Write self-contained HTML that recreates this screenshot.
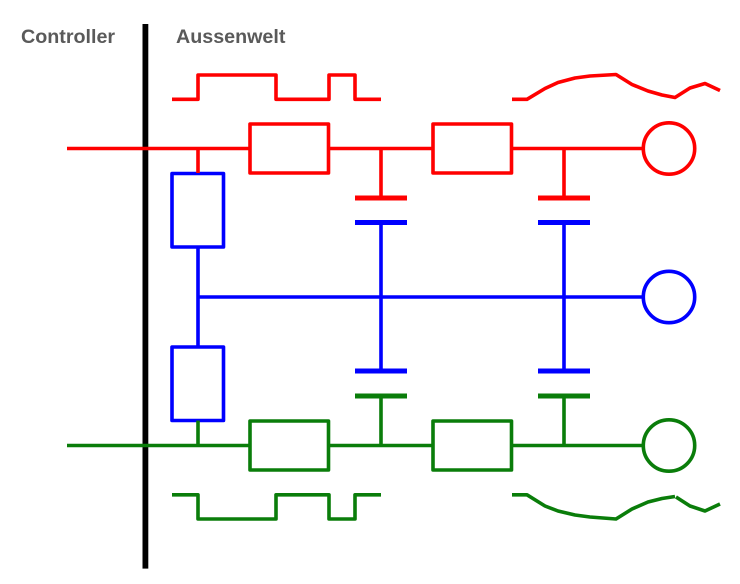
<!DOCTYPE html>
<html>
<head>
<meta charset="utf-8">
<style>
html,body{margin:0;padding:0;background:#fff;width:740px;height:584px;overflow:hidden}
svg{display:block}
text{font-family:"Liberation Sans",sans-serif;font-weight:bold;font-size:19.7px;fill:#5a5a5a}
.l{fill:none;stroke-linejoin:round}
.r{stroke:#f00}.b{stroke:#00f}.g{stroke:#0a7d0a}
</style>
</head>
<body>
<svg width="740" height="584" viewBox="0 0 740 584" xmlns="http://www.w3.org/2000/svg">
<rect width="740" height="584" fill="#fff"/>
<text x="21" y="43">Controller</text>
<text x="176" y="43">Aussenwelt</text>
<rect x="142.5" y="24" width="5.8" height="544.6" fill="#000"/>

<!-- blue -->
<g class="l b" stroke-width="3.6">
<rect x="172" y="173.5" width="51.5" height="73.5"/>
<rect x="172" y="347" width="51.5" height="73.5"/>
<path d="M198 247V347M198 297H642M381 222V371M564 222V371"/>
<circle cx="669" cy="297" r="25.7"/>
</g>
<path d="M355 222.5H407M538 222.5H590M355 371H407M538 371H590" stroke="#00f" stroke-width="5" fill="none"/>

<!-- red -->
<g class="l r" stroke-width="3.6">
<path d="M67 148.5H249M329 148.5H433M512 148.5H642M198 148.5V173M381 148.5V198M564 148.5V198"/>
<rect x="250" y="124" width="78.500" height="49"/>
<rect x="433" y="124" width="78.500" height="49"/>
<circle cx="669" cy="148.500" r="25.700"/>
<path d="M172 99.300H198V75H276V99.300H329V75H355V99.300H381"/>
<path d="M512 99.300H527L545 88.500L558 82.500L575 78L590 76L616 74.500L632 84.500L648 91L662 95L675 97.500L690 88L705 83.500L720 90.500"/>
</g>
<path d="M355 198H407M538 198H590" stroke="#f00" stroke-width="5" fill="none"/>

<!-- green -->
<g class="l g" stroke-width="3.6">
<path d="M67 445.500H249M329 445.500H433M512 445.500H642M198 420.500V445.500M381 396V445.500M564 396V445.500"/>
<rect x="250" y="421" width="78.500" height="49"/>
<rect x="433" y="421" width="78.500" height="49"/>
<circle cx="669" cy="445.500" r="25.700"/>
<path d="M172 494.800H198V519H276V494.800H329V519H355V494.800H381"/>
<path d="M512 494.800H527L545 506L558 511L575 515L590 517L616 519L632 509L648 502L662 498.500L675 496.500"/>
<path d="M676 497L690 506L705 511L720 504"/>
</g>
<path d="M355 396H407M538 396H590" stroke="#0a7d0a" stroke-width="5" fill="none"/>
</svg>
</body>
</html>
